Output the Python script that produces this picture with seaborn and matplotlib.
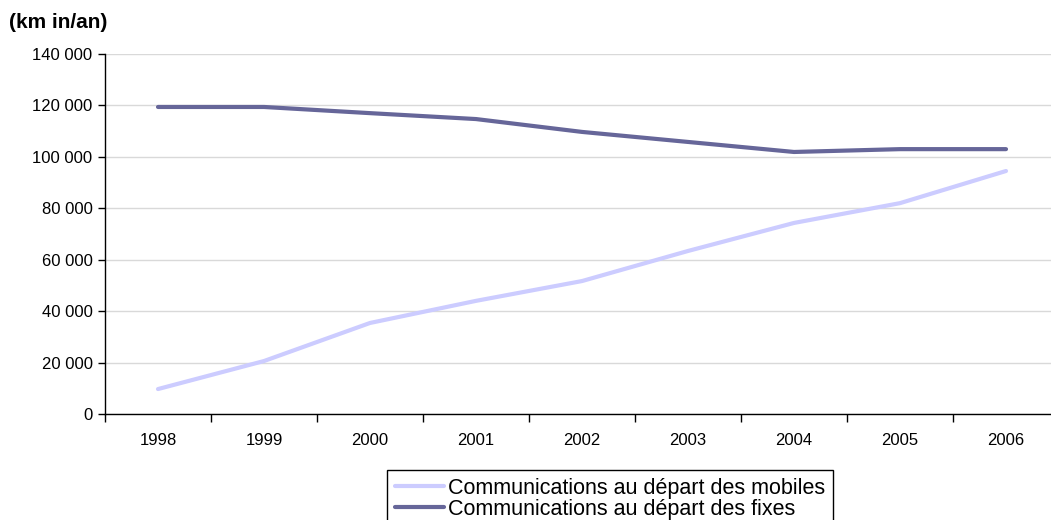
import pandas as pd
import seaborn as sns
from matplotlib import pyplot as plt
from matplotlib.ticker import FuncFormatter, FixedLocator

years = ['1998', '1999', '2000', '2001', '2002', '2003', '2004', '2005', '2006']
mobiles = [9700, 20600, 35400, 44000, 51700, 63400, 74300, 82000, 94500]
fixes = [119400, 119400, 117000, 114700, 109700, 105800, 101900, 103000, 103000]
labels = ['Communications au départ des mobiles', 'Communications au départ des fixes']

df = pd.DataFrame({
    'annee': years * 2,
    'valeur': mobiles + fixes,
    'serie': [labels[0]] * len(years) + [labels[1]] * len(years),
})

sns.set_theme(style='white')
plt.rcParams['font.family'] = ['Liberation Sans', 'DejaVu Sans']
plt.rcParams['text.color'] = 'black'
plt.rcParams['xtick.color'] = 'black'
plt.rcParams['ytick.color'] = 'black'

fig = plt.figure(figsize=(10.51, 5.2), dpi=100)
# axes runs a little past the right edge, as in the source
ax = fig.add_axes([105 / 1051, 1 - 414 / 520, 954 / 1051, 360 / 520])

sns.lineplot(data=df, x='annee', y='valeur', hue='serie', hue_order=labels,
             palette=['#ccccff', '#666699'], linewidth=3, ax=ax, legend=False)

ax.set_ylim(0, 140000)
ax.set_xlim(-0.5, len(years) - 0.5)
ax.set_yticks(range(0, 140001, 20000))
ax.yaxis.set_major_formatter(FuncFormatter(lambda v, p: f'{int(v):,}'.replace(',', ' ')))
ax.grid(axis='y', color='#d9d9d9', linewidth=1)
ax.set_axisbelow(True)
ax.set_xlabel('')
ax.set_ylabel('')

ax.xaxis.set_minor_locator(FixedLocator([i - 0.5 for i in range(len(years) + 1)]))
ax.tick_params(axis='x', which='major', length=0, labelsize=12, pad=14)
ax.tick_params(axis='x', which='minor', length=6, width=1, color='black', direction='out', bottom=True)
ax.tick_params(axis='y', length=5, width=1, color='black', direction='out', left=True, labelsize=12, pad=4)

for s in ['top', 'right']:
    ax.spines[s].set_visible(False)
for s in ['left', 'bottom']:
    ax.spines[s].set_color('black')
    ax.spines[s].set_linewidth(1)

fig.text(9 / 1051, 1 - 22 / 520, '(km in/an)', fontsize=15, fontweight='bold', va='center', ha='left')

handles = [plt.Line2D([], [], color=c, linewidth=3) for c in ['#ccccff', '#666699']]
leg = fig.legend(handles, labels, loc='upper center', bbox_to_anchor=(610 / 1051, 1 - 470 / 520),
                 fontsize=15.5, frameon=True, fancybox=False, edgecolor='black', framealpha=1,
                 labelspacing=0.0, handlelength=2.3, handletextpad=0.2, borderpad=0.35,
                 borderaxespad=0)
leg.get_frame().set_linewidth(1)

fig.savefig('out.png', dpi=100)
